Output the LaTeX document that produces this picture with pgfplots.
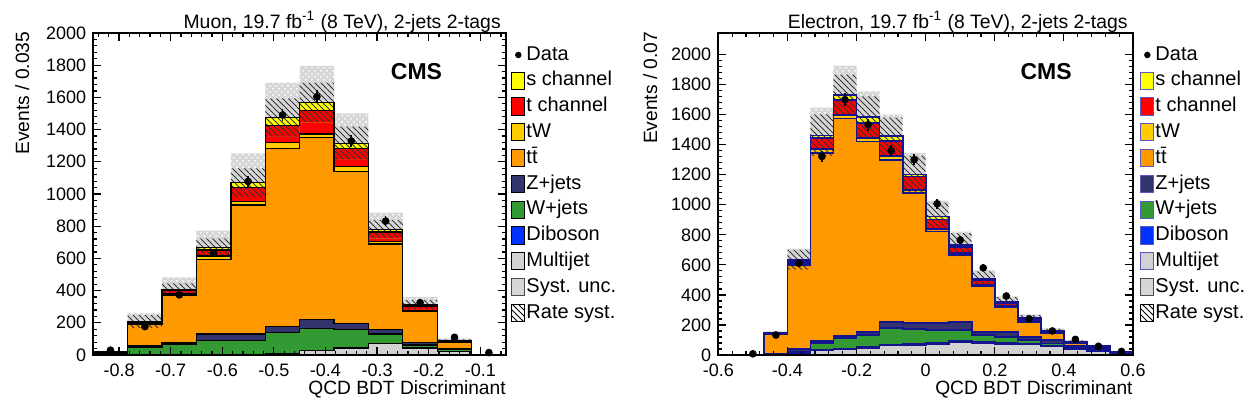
\documentclass[border=0pt]{standalone}
\usepackage{fontspec}
\setmainfont{Liberation Sans}
\usepackage{pgfplots}
\usepackage{pgfplotstable}
\pgfplotsset{compat=1.18}
\usetikzlibrary{patterns}

% process colours
\definecolor{cSch}{RGB}{255,255,0}
\definecolor{cTch}{RGB}{255,0,0}
\definecolor{cTW}{RGB}{255,204,0}
\definecolor{cTT}{RGB}{255,153,0}
\definecolor{cZJ}{RGB}{51,51,110}
\definecolor{cWJ}{RGB}{51,153,51}
\definecolor{cVV}{RGB}{0,51,255}
\definecolor{cMJ}{RGB}{210,210,210}
\definecolor{cSys}{RGB}{214,214,214}
\definecolor{eline}{RGB}{20,20,140}
\definecolor{eleg}{RGB}{90,90,190}

% muon channel: bin low edges, yields per process, syst. and rate uncertainties
\pgfplotstableread{
x        mj vv wj  zj tt   tw tch sch syst rate
-0.85     0  0   6  2    8  1   1   0    6    4
-0.78333  1  1  46  8  137  4   8   2   52   40
-0.71667  2  1  65  9  296  8  20   7   74   37
-0.65     2  2  85 41  464 21  37  17  103   56
-0.58333  2  2  85 41  801 21  88  30  182   89
-0.51667  5  2 132 37 1109 35 105  49  217  120
-0.45    27  3 136 56 1130 21 144  50  228  124
-0.38333 41  3 115 38  942 31 114  31  186  103
-0.31667 70  2  58 29  530 15  60  16  104   58
-0.25    41  2  19 15  192  8  25   9   50   31
-0.18333 20  1  15  5   40  3   4   1   14    8
-0.11667  2  0   1  0    1  0   0   0    1    1
-0.05     2  0   1  0    1  0   0   0    1    1
}\muon

\pgfplotstableread{
xc       n
-0.81667 30
-0.75    176
-0.68333 373
-0.61667 631
-0.55    1078
-0.48333 1491
-0.41667 1604
-0.35    1329
-0.28333 832
-0.21667 325
-0.15    110
-0.08333 15
}\muondata

% electron channel
\pgfplotstableread{
x        mj vv wj  zj tt   tw tch sch syst rate
-0.6      0  0   0  0    0  0   0   0    0    0
-0.53333  1  0   0  0    1  0   0   0    1    1
-0.46667  0  0   2  2  137  2   2   1   12    8
-0.4      8  2  12 18  560 10  18   5   75   67
-0.33333 30  5  43 15 1251 30  70  18  185  140
-0.26667 38  5  68 18 1446 22 100  36  194  134
-0.2     46  5  82 18 1271 22 100  38  174  140
-0.13333 64  6 112 36 1082 25 100  31  144  125
-0.06667 68  6  99 38  867 22  88  14  144  125
0        75  6  86 44  611 18  62  20  105   92
0.06667  85  6  76 51  449 12  42  12   89   78
0.13333  80  5  48 18  305 10  30   8   60   52
0.2      75  4  43 29  171  7  17   5   40   35
0.26667  70  4  26 22  100  5  13   4   26   22
0.33333  57  3  16 22   50  3   7   2   18   15
0.4      38  2   8 10   24  2   4   1   10    9
0.46667  27  2   6  9   12  1   2   1    7    6
0.53333  10  1   3  4    3  0   1   0    3    2
0.6      10  1   3  4    3  0   1   0    3    2
}\elec

\pgfplotstableread{
xc       n
-0.5     8
-0.43333 133
-0.36667 611
-0.3     1322
-0.23333 1700
-0.16667 1533
-0.1     1360
-0.03333 1300
0.03333  1007
0.1      765
0.16667  580
0.23333  393
0.3      240
0.36667  160
0.43333  104
0.5      58
0.56667  24
}\elecdata

% running sums for the stack, band edges, and the stack cut at the lower hatch edge
\newcommand\stackup[1]{%
  \pgfplotstablecreatecol[create col/expr={\thisrow{mj}}]{c1}{#1}%
  \pgfplotstablecreatecol[create col/expr={\thisrow{c1}+\thisrow{vv}}]{c2}{#1}%
  \pgfplotstablecreatecol[create col/expr={\thisrow{c2}+\thisrow{wj}}]{c3}{#1}%
  \pgfplotstablecreatecol[create col/expr={\thisrow{c3}+\thisrow{zj}}]{c4}{#1}%
  \pgfplotstablecreatecol[create col/expr={\thisrow{c4}+\thisrow{tt}}]{c5}{#1}%
  \pgfplotstablecreatecol[create col/expr={\thisrow{c5}+\thisrow{tw}}]{c6}{#1}%
  \pgfplotstablecreatecol[create col/expr={\thisrow{c6}+\thisrow{tch}}]{c7}{#1}%
  \pgfplotstablecreatecol[create col/expr={\thisrow{c7}+\thisrow{sch}}]{c8}{#1}%
  \pgfplotstablecreatecol[create col/expr={\thisrow{c8}+\thisrow{syst}}]{shi}{#1}%
  \pgfplotstablecreatecol[create col/expr={\thisrow{c8}+\thisrow{rate}}]{rhi}{#1}%
  \pgfplotstablecreatecol[create col/expr={\thisrow{c8}-\thisrow{rate}}]{rlo}{#1}%
  \pgfplotstablecreatecol[create col/expr={max(0,\thisrow{rlo})}]{m8}{#1}%
  \pgfplotstablecreatecol[create col/expr={min(\thisrow{c7},\thisrow{m8})}]{m7}{#1}%
  \pgfplotstablecreatecol[create col/expr={min(\thisrow{c6},\thisrow{m8})}]{m6}{#1}%
  \pgfplotstablecreatecol[create col/expr={min(\thisrow{c5},\thisrow{m8})}]{m5}{#1}%
  \pgfplotstablecreatecol[create col/expr={min(\thisrow{c4},\thisrow{m8})}]{m4}{#1}%
  \pgfplotstablecreatecol[create col/expr={min(\thisrow{c3},\thisrow{m8})}]{m3}{#1}%
  \pgfplotstablecreatecol[create col/expr={min(\thisrow{c2},\thisrow{m8})}]{m2}{#1}%
  \pgfplotstablecreatecol[create col/expr={min(\thisrow{c1},\thisrow{m8})}]{m1}{#1}%
}
\stackup{\muon}
\stackup{\elec}

% fills for one stacked set: column prefix, table, outline style
\newcommand\layers[3]{%
  \addplot[const plot, forget plot, fill=cSch, #3] table[x=x,y=#18]{#2} \closedcycle;
  \addplot[const plot, forget plot, fill=cTch, #3] table[x=x,y=#17]{#2} \closedcycle;
  \addplot[const plot, forget plot, fill=cTW,  #3] table[x=x,y=#16]{#2} \closedcycle;
  \addplot[const plot, forget plot, fill=cTT,  #3] table[x=x,y=#15]{#2} \closedcycle;
  \addplot[const plot, forget plot, fill=cZJ,  #3] table[x=x,y=#14]{#2} \closedcycle;
  \addplot[const plot, forget plot, fill=cWJ,  #3] table[x=x,y=#13]{#2} \closedcycle;
  \addplot[const plot, forget plot, fill=cVV,  #3] table[x=x,y=#12]{#2} \closedcycle;
  \addplot[const plot, forget plot, fill=cMJ,  #3] table[x=x,y=#11]{#2} \closedcycle;
}

% syst. band, stacked processes, rate-syst. hatching and data
\newcommand\histo[3]{% table, data table, outline style
  \addplot[const plot, forget plot, fill=cSys, draw=none] table[x=x,y=shi]{#1} \closedcycle;
  \addplot[const plot, forget plot, pattern=crosshatch dots, pattern color=white, draw=none] table[x=x,y=shi]{#1} \closedcycle;
  \layers{c}{#1}{#3}
  \addplot[const plot, forget plot, pattern=north west lines, pattern color=black!80, draw=none] table[x=x,y=rhi]{#1} \closedcycle;
  \layers{m}{#1}{draw=none}
  \addplot[const plot, forget plot, #3] table[x=x,y=c8]{#1};
  \addplot[const plot, forget plot, #3] table[x=x,y=c7]{#1};
  \addplot[const plot, forget plot, #3] table[x=x,y=c6]{#1};
  \addplot[const plot, forget plot, #3] table[x=x,y=c5]{#1};
  \addplot[const plot, forget plot, #3] table[x=x,y=c4]{#1};
  \addplot[const plot, forget plot, #3] table[x=x,y=c3]{#1};
  \addplot[const plot, forget plot, #3] table[x=x,y=c2]{#1};
  \addplot[const plot, forget plot, #3] table[x=x,y=c1]{#1};
  \addplot[only marks, mark=*, mark size=1.7pt, black, forget plot,
           error bars/.cd, y dir=both, y explicit,
           error bar style={line width=0.8pt}, error mark=none]
    table[x=xc, y=n, y error expr=sqrt(\thisrow{n})]{#2};
}

\pgfplotsset{
  boxleg/.style={legend image code/.code={\draw[##1, line width=0.5pt] (0pt,-4.3pt) rectangle (6.4pt,4.3pt);}},
  dotleg/.style={legend image code/.code={\fill[black] (3.2pt,0pt) circle (1.4pt);}},
  hist/.style={
    scale only axis, height=161pt, ymin=0,
    axis on top, tick align=inside,
    major tick length=4pt, minor tick length=2pt,
    axis line style={line width=0.9pt},
    every tick/.append style={line width=0.6pt, black},
    ytick={0,200,...,2000}, minor y tick num=4,
    /pgf/number format/assume math mode=true,
    /pgf/number format/1000 sep={},
    tick label style={font=\fontsize{9}{10}\selectfont},
    xticklabel style={yshift=-1pt},
    label style={font=\fontsize{9.6}{10}\selectfont, inner sep=0pt},
    title style={anchor=south east, at={(0.988,1)}, inner sep=0pt, yshift=-5.8pt,
                 font=\fontsize{9.7}{11}\selectfont},
    xlabel style={at={(1,0)}, anchor=north east, yshift=-12.6pt},
    xlabel={QCD BDT Discriminant},
    legend cell align=left,
    legend style={anchor=north west, draw=none, fill=none, inner sep=0pt,
                  row sep=2.3pt, font=\fontsize{10}{11}\selectfont,
                  nodes={inner sep=0.6pt, text height=7.3pt, text depth=2.1pt}},
  },
}

\begin{document}
\begin{tikzpicture}
\useasboundingbox (0,0) rectangle (627pt,205pt);

\begin{axis}[hist,
  at={(46.65pt,27.5pt)}, anchor=south west, width=206.4pt,
  xmin=-0.85, xmax=-0.05, ymax=2000,
  xtick={-0.8,-0.7,-0.6,-0.5,-0.4,-0.3,-0.2,-0.1},
  minor xtick={-0.84,-0.82,-0.78,-0.76,-0.74,-0.72,-0.68,-0.66,-0.64,-0.62,-0.58,-0.56,-0.54,-0.52,-0.48,-0.46,-0.44,-0.42,-0.38,-0.36,-0.34,-0.32,-0.28,-0.26,-0.24,-0.22,-0.18,-0.16,-0.14,-0.12,-0.08,-0.06},
  title={Muon, 19.7 fb\textsuperscript{-1} (8 TeV), 2-jets 2-tags},
  ylabel={Events / 0.035},
  ylabel style={at={(-0.172,1.005)}, anchor=east},
  legend style={at={(1.012,0.966)}},
]
\histo{\muon}{\muondata}{draw=black, line width=0.6pt}
\node[anchor=east, font=\fontsize{11.5}{13}\selectfont\bfseries] at (rel axis cs:0.862,0.879) {CMS};
\addlegendimage{dotleg}\addlegendentry{Data}
\addlegendimage{boxleg, fill=cSch, draw=black}\addlegendentry{s channel}
\addlegendimage{boxleg, fill=cTch, draw=black}\addlegendentry{t channel}
\addlegendimage{boxleg, fill=cTW, draw=black}\addlegendentry{tW}
\addlegendimage{boxleg, fill=cTT, draw=black}\addlegendentry{t\=t}
\addlegendimage{boxleg, fill=cZJ, draw=black}\addlegendentry{Z+jets}
\addlegendimage{boxleg, fill=cWJ, draw=black}\addlegendentry{W+jets}
\addlegendimage{boxleg, fill=cVV, draw=black}\addlegendentry{Diboson}
\addlegendimage{boxleg, fill=cMJ, draw=black}\addlegendentry{Multijet}
\addlegendimage{boxleg, fill=cSys, draw=black!70}\addlegendentry{Syst. unc.}
\addlegendimage{boxleg, pattern=north west lines, draw=black}\addlegendentry{Rate syst.}
\end{axis}

\begin{axis}[hist,
  at={(359.15pt,27.5pt)}, anchor=south west, width=207.35pt,
  xmin=-0.6, xmax=0.6, ymax=2144,
  xtick={-0.6,-0.4,-0.2,0,0.2,0.4,0.6}, minor x tick num=4,
  title={Electron, 19.7 fb\textsuperscript{-1} (8 TeV), 2-jets 2-tags},
  ylabel={Events / 0.07},
  ylabel style={at={(-0.164,1.005)}, anchor=east},
  legend style={at={(1.017,0.966)}},
]
\histo{\elec}{\elecdata}{draw=eline, line width=0.9pt}
\node[anchor=east, font=\fontsize{11.5}{13}\selectfont\bfseries] at (rel axis cs:0.869,0.879) {CMS};
\addlegendimage{dotleg}\addlegendentry{Data}
\addlegendimage{boxleg, fill=cSch, draw=eleg}\addlegendentry{s channel}
\addlegendimage{boxleg, fill=cTch, draw=eleg}\addlegendentry{t channel}
\addlegendimage{boxleg, fill=cTW, draw=eleg}\addlegendentry{tW}
\addlegendimage{boxleg, fill=cTT, draw=eleg}\addlegendentry{t\=t}
\addlegendimage{boxleg, fill=cZJ, draw=eleg}\addlegendentry{Z+jets}
\addlegendimage{boxleg, fill=cWJ, draw=eleg}\addlegendentry{W+jets}
\addlegendimage{boxleg, fill=cVV, draw=eleg}\addlegendentry{Diboson}
\addlegendimage{boxleg, fill=cMJ, draw=eleg}\addlegendentry{Multijet}
\addlegendimage{boxleg, fill=cSys, draw=black!70}\addlegendentry{Syst. unc.}
\addlegendimage{boxleg, pattern=north west lines, draw=black}\addlegendentry{Rate syst.}
\end{axis}
\end{tikzpicture}
\end{document}
